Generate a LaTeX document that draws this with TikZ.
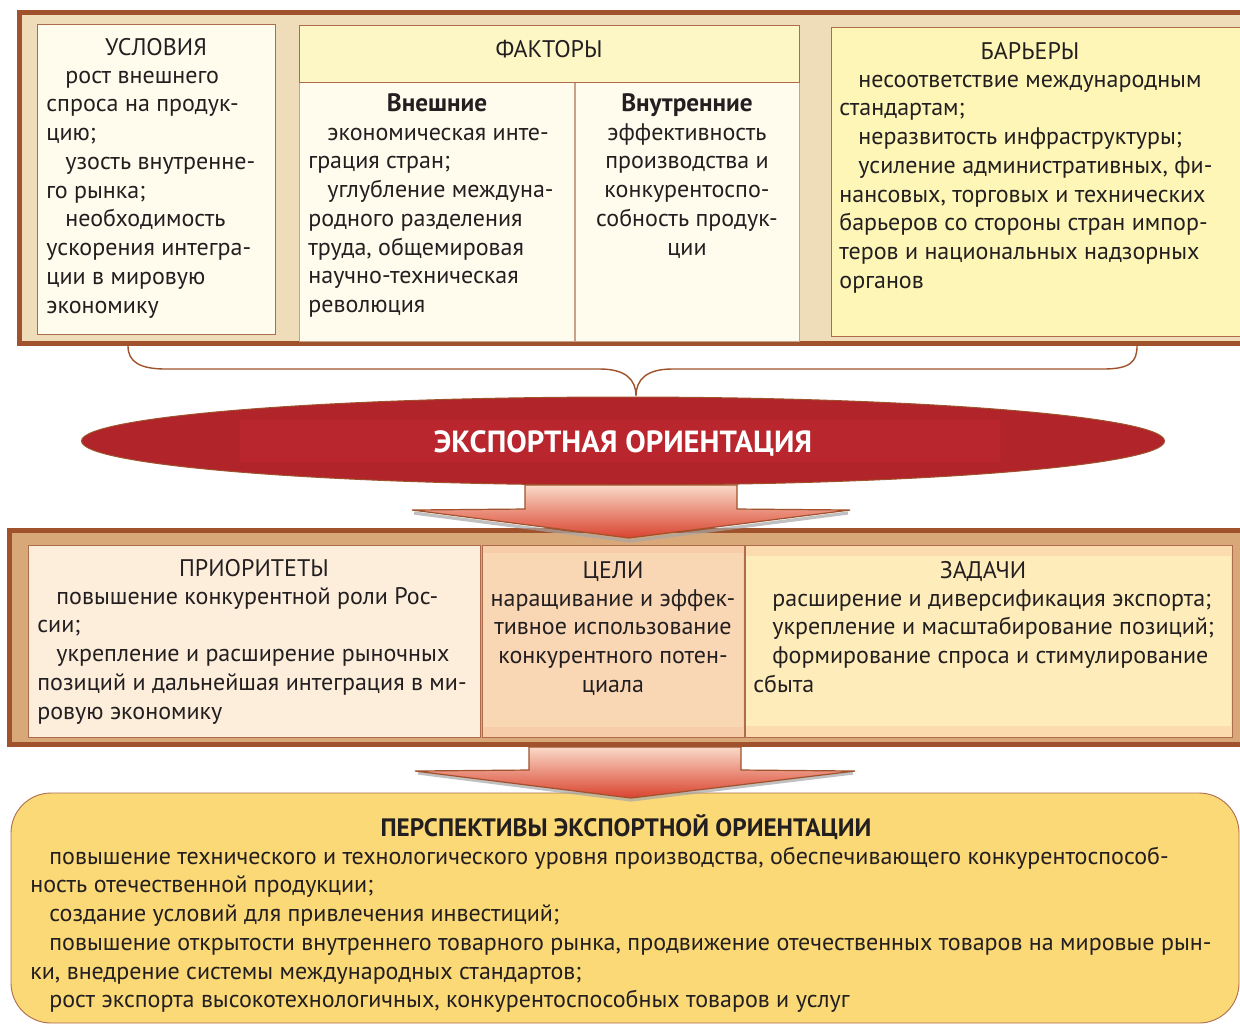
\documentclass[tikz,border=0pt]{standalone}
\usepackage{fontspec}
\setmainfont{PT Sans}
\usetikzlibrary{fit,shapes.geometric}
\definecolor{brn}{HTML}{A0522D}
\definecolor{frameA}{HTML}{EFDDBA}
\definecolor{cream}{HTML}{FFFCEE}
\definecolor{lyel}{HTML}{FDF7C6}
\definecolor{byel}{HTML}{FEF6B6}
\definecolor{frameB}{HTML}{D9A878}
\definecolor{peachA}{HTML}{FDEEDC}
\definecolor{peachB}{HTML}{F6CDA8}
\definecolor{peachBi}{HTML}{F9D7B5}
\definecolor{peachC}{HTML}{FCDCAE}
\definecolor{peachCi}{HTML}{FEEDBA}
\definecolor{gold}{HTML}{FBD977}
\definecolor{dred}{HTML}{B0242A}
\definecolor{mred}{HTML}{B9262E}
\definecolor{txt}{HTML}{231F20}
\definecolor{arrTop}{HTML}{FADAC8}
\definecolor{arrMid}{HTML}{F3A575}
\definecolor{arrBot}{HTML}{D9432F}
\newcommand\Ln[1]{\hbox{#1}}
\newcommand\In[1]{\hbox{\hskip9.5pt #1}}
\newcommand\Cl[1]{\hbox to 0pt{\hss #1\hss}}
\newcommand\Blk[1]{\vtop{\baselineskip=14.375pt\lineskiplimit=-20pt\lineskip=0pt #1}}
\tikzset{
  frame/.style={draw=brn, line width=2.5pt, rectangle, inner sep=0pt},
  inbox/.style={draw=brn!85, line width=0.45pt, rectangle, inner sep=0pt},
  plain/.style={rectangle, inner sep=0pt},
  bodyfont/.style={font=\fontsize{12}{14.375}\selectfont},
  boldfont/.style={font=\bfseries\fontsize{12.6}{14.375}\selectfont},
  ttl/.style={bodyfont, anchor=base, inner sep=0pt, text=txt},
  lblock/.style={bodyfont, anchor=base west, inner sep=0pt, text=txt},
  cblock/.style={bodyfont, anchor=base, inner sep=0pt, text=txt},
  arrowpart/.style={draw=brn, line width=0.6pt, top color=arrTop, middle color=arrMid, bottom color=arrBot},
  shadowline/.style={draw=gray!70, line width=1.6pt, opacity=0.7},
  bracel/.style={draw=brn, line width=0.7pt}
}
\begin{document}
\begin{tikzpicture}[x=0.5pt,y=-0.5pt]
\useasboundingbox (0,0) rectangle (1240,1025);
\fill[white] (0,0) rectangle (1240,1025);

% ---------- top frame ----------
\node[frame, fill=frameA, fit={(19.5,12) (1250,343.5)}] (topframe) {};
\node[inbox, fill=cream, fit={(37,24) (275,334)}] (usl) {};
\node[inbox, draw=brn!55, fill=cream, fit={(299,82) (799,341)}] (fcols) {};
\draw[brn!55, line width=0.6pt] (575,82) -- (575,341);
\node[inbox, fill=lyel, fit={(299,25) (799,82)}] (fakt) {};
\node[inbox, fill=byel, fit={(831,27) (1245,336)}] (bar) {};

\node[ttl] (uslH) at (156,55) {УСЛОВИЯ};
\node[lblock] (uslT) at (46,83) {\Blk{%
\In{рост внешнего}
\Ln{спроса на продук-}
\Ln{цию;}
\In{узость внутренне-}
\Ln{го рынка;}
\In{необходимость}
\Ln{ускорения интегра-}
\Ln{ции в мировую}
\Ln{экономику}}};

\node[ttl] (faktH) at (549,57) {ФАКТОРЫ};
\node[ttl, boldfont] (extH) at (437,111) {Внешние};
\node[lblock] (extT) at (308,140) {\Blk{%
\In{экономическая инте-}
\Ln{грация стран;}
\In{углубление междуна-}
\Ln{родного разделения}
\Ln{труда, общемировая}
\Ln{научно-техническая}
\Ln{революция}}};
\node[ttl, boldfont] (intH) at (687,111) {Внутренние};
\node[cblock] (intT) at (687,140) {\Blk{%
\Cl{эффективность}
\Cl{производства и}
\Cl{конкурентоспо-}
\Cl{собность продук-}
\Cl{ции}}};

\node[ttl] (barH) at (1030,59) {БАРЬЕРЫ};
\node[lblock] (barT) at (839,87) {\Blk{%
\In{несоответствие международным}
\Ln{стандартам;}
\In{неразвитость инфраструктуры;}
\In{усиление административных, фи-}
\Ln{нансовых, торговых и технических}
\Ln{барьеров со стороны стран импор-}
\Ln{теров и национальных надзорных}
\Ln{органов}}};

% ---------- brace ----------
\coordinate (bl) at (128,346);
\coordinate (bt) at (636,396);
\coordinate (br) at (1137,346);
\draw[bracel] (bl) .. controls (128,362) and (140,369) .. (166,369) -- (600,369)
  .. controls (626,369) and (636,380) .. (bt)
  .. controls (636,380) and (646,369) .. (672,369) -- (1103,369)
  .. controls (1130,369) and (1137,362) .. (br);

% ---------- ellipse ----------
\node[ellipse, draw=brn, line width=0.5pt, fill=dred, minimum width=541.5pt, minimum height=44pt, inner sep=0pt] (eo) at (623,441) {};
\node[plain, fill=mred, fit={(240,420) (1000,462)}] (eoband) {};
\node[anchor=base, inner sep=0pt, text=white, font=\bfseries\fontsize{15.3}{18}\selectfont] (eoT) at (623,452) {ЭКСПОРТНАЯ ОРИЕНТАЦИЯ};

% ---------- second frame ----------
\node[frame, fill=frameB, fit={(9.5,530.5) (1250,744.5)}] (midframe) {};
\node[inbox, fill=peachA, fit={(28,545) (480,737)}] (prio) {};
\node[inbox, fill=peachB, fit={(482,545) (744,737)}] (celi) {};
\node[plain, fill=peachBi, fit={(483,553) (743,727)}] (celiIn) {};
\node[inbox, fill=peachC, fit={(745,545) (1232,737)}] (zad) {};
\node[plain, fill=peachCi, fit={(746,556) (1231,726)}] (zadIn) {};

% arrow 1
\draw[shadowline] (414,513) -- (630,541) -- (848,513);
\shade[arrowpart] (525,485) -- (525,509) -- (412,510) -- (629,538) -- (850,510) -- (737,509) -- (737,485) -- cycle;

\node[ttl] (prioH) at (254,576) {ПРИОРИТЕТЫ};
\node[lblock] (prioT) at (37,604) {\Blk{%
\In{повышение конкурентной роли Рос-}
\Ln{сии;}
\In{укрепление и расширение рыночных}
\Ln{позиций и дальнейшая интеграция в ми-}
\Ln{ровую экономику}}};

\node[ttl] (celiH) at (613,578) {ЦЕЛИ};
\node[cblock] (celiT) at (613,606) {\Blk{%
\Cl{наращивание и эффек-}
\Cl{тивное использование}
\Cl{конкурентного потен-}
\Cl{циала}}};

\node[ttl] (zadH) at (983,578) {ЗАДАЧИ};
\node[lblock] (zadT) at (753,606) {\Blk{%
\In{расширение и диверсификация экспорта;}
\In{укрепление и масштабирование позиций;}
\In{формирование спроса и стимулирование}
\Ln{сбыта}}};

% ---------- bottom box ----------
\node[inbox, rounded corners=20pt, fill=gold, fit={(11,793) (1239,1023)}] (persp) {};
\draw[shadowline] (418,773) -- (631,800) -- (853,773);
\shade[arrowpart] (529,747) -- (529,770) -- (415,771) -- (631,798) -- (855,771) -- (741,770) -- (741,747) -- cycle;

\node[ttl, boldfont] (perspH) at (626,836) {ПЕРСПЕКТИВЫ ЭКСПОРТНОЙ ОРИЕНТАЦИИ};
\node[lblock] (perspT) at (30,864) {\Blk{%
\In{повышение технического и технологического уровня производства, обеспечивающего конкурентоспособ-}
\Ln{ность отечественной продукции;}
\In{создание условий для привлечения инвестиций;}
\In{повышение открытости внутреннего товарного рынка, продвижение отечественных товаров на мировые рын-}
\Ln{ки, внедрение системы международных стандартов;}
\In{рост экспорта высокотехнологичных, конкурентоспособных товаров и услуг}}};
\end{tikzpicture}
\end{document}
